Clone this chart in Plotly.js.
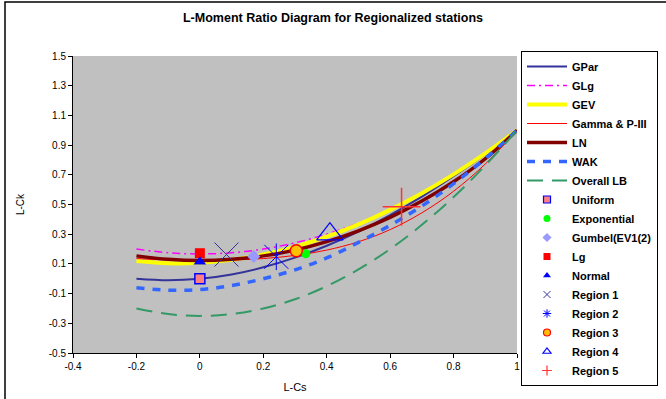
<!DOCTYPE html>
<html><head><meta charset="utf-8">
<script src="https://cdn.plot.ly/plotly-3.0.1.min.js"></script>
<style>html,body{margin:0;padding:0;background:#fff;} #chart{width:666px;height:399px;}</style>
</head><body><div id="chart"></div>
<script>
// L-skewness (L-Cs) grid for theoretical curves
var tauCs = [-0.2, -0.1, 0, 0.1, 0.2, 0.3, 0.4, 0.5, 0.6, 0.7, 0.8, 0.9, 1.0];
// L-kurtosis (L-Ck) of each theoretical curve
var gpar  = [0.000, -0.010, 0.000, 0.029, 0.077, 0.142, 0.222, 0.318, 0.429, 0.553, 0.690, 0.839, 1.000];
var glg   = [0.200, 0.175, 0.167, 0.175, 0.200, 0.242, 0.300, 0.375, 0.467, 0.575, 0.700, 0.842, 1.000];
var gev   = [0.119, 0.104, 0.107, 0.127, 0.163, 0.215, 0.283, 0.366, 0.464, 0.576, 0.703, 0.844, 1.000];
var gamma = [0.136, 0.126, 0.122, 0.126, 0.136, 0.157, 0.193, 0.249, 0.331, 0.444, 0.589, 0.773, 1.000];
var ln    = [0.154, 0.131, 0.123, 0.131, 0.154, 0.193, 0.250, 0.323, 0.413, 0.523, 0.653, 0.808, 1.000];
var wak   = [-0.060, -0.077, -0.073, -0.046, 0.000, 0.060, 0.140, 0.245, 0.360, 0.490, 0.640, 0.810, 1.000];
var lb    = [-0.200, -0.238, -0.250, -0.238, -0.200, -0.138, -0.050, 0.063, 0.200, 0.363, 0.550, 0.763, 1.000];

// Point distributions and regions
var pointNames = ['Uniform', 'Exponential', 'Gumbel(EV1(2)', 'Lg', 'Normal', 'Region 1', 'Region 2', 'Region 3', 'Region 4', 'Region 5'];
var pointCs = [0.000, 0.334, 0.170, 0.000, 0.000, 0.084, 0.241, 0.304, 0.410, 0.636];
var pointCk = [0.000, 0.168, 0.150, 0.172, 0.115, 0.163, 0.148, 0.188, 0.300, 0.485];

// Axis ticks
var xTickVals = [-0.4, -0.2, 0, 0.2, 0.4, 0.6, 0.8, 1];
var xTickText = ['-0.4', '-0.2', '0', '0.2', '0.4', '0.6', '0.8', '1'];
var yTickVals = [-0.5, -0.3, -0.1, 0.1, 0.3, 0.5, 0.7, 0.9, 1.1, 1.3, 1.5];
var yTickText = ['-0.5', '-0.3', '-0.1', '0.1', '0.3', '0.5', '0.7', '0.9', '1.1', '1.3', '1.5'];

var FONT = 'Arial, "Liberation Sans", sans-serif';

function lineTrace(name, y, color, width, dash) {
  return {type: 'scatter', mode: 'lines', x: tauCs, y: y, name: name,
    line: {color: color, width: width, dash: dash || 'solid', shape: 'spline', smoothing: 1}};
}

var traces = [
  lineTrace('GPar', gpar, '#333399', 2),
  lineTrace('GLg', glg, '#FF00FF', 1.5, '8px,4px,2px,4px'),
  lineTrace('GEV', gev, '#FFFF00', 4),
  lineTrace('Gamma & P-III', gamma, '#FF0000', 1),
  lineTrace('LN', ln, '#800000', 3.5),
  lineTrace('WAK', wak, '#3366FF', 3.5, '8px,8px'),
  lineTrace('Overall LB', lb, '#339966', 2, '16px,9px')
];

var pointStyles = [
  {symbol: 'square', size: 10, color: '#FF8080', line: {color: '#0000FF', width: 1.5}},
  {symbol: 'circle', size: 9, color: '#00FF00', line: {width: 0}},
  {symbol: 'diamond', size: 10, color: '#9999FF', line: {width: 0}},
  {symbol: 'square', size: 10, color: '#FF0000', line: {width: 0}},
  {symbol: 'triangle-up', size: 11, color: '#0000FF', line: {width: 0}},
  {symbol: 'x-thin-open', size: 24, color: '#333399', line: {color: '#333399', width: 1}},
  {symbol: 'x-thin-open', size: 24, color: '#0000FF', line: {color: '#0000FF', width: 1}},
  {symbol: 'circle', size: 12, color: '#FFC000', line: {color: '#FF0000', width: 1.5}},
  {symbol: 'triangle-up-open', size: 23, color: '#0000FF', line: {color: '#0000FF', width: 1.3}},
  {symbol: 'cross-thin-open', size: 27, color: '#FF3333', line: {color: '#FF3333', width: 1.5}}
];
var legendSymbols = ['square', 'circle', 'diamond', 'square', 'triangle-up', 'x-thin-open', 'asterisk-open', 'circle', 'triangle-up-open', 'cross-thin-open'];

// legend entries (small icons)
for (var i = 0; i < pointNames.length; i++) {
  var s = pointStyles[i];
  traces.push({type: 'scatter', mode: 'markers', x: [null], y: [null], name: pointNames[i], showlegend: true,
    marker: {symbol: legendSymbols[i], size: 7, color: s.color, line: {color: s.line.color, width: s.line.width ? Math.min(s.line.width, 1.2) : 0}}});
}
// actual points
for (var j = 0; j < pointNames.length; j++) {
  var st = pointStyles[j];
  traces.push({type: 'scatter', mode: 'markers', x: [pointCs[j]], y: [pointCk[j]], name: pointNames[j], showlegend: false,
    marker: {symbol: st.symbol, size: st.size, color: st.color, line: st.line}});
}
// vertical stroke of the Region 2 star marker
traces.push({type: 'scatter', mode: 'markers', x: [pointCs[6]], y: [pointCk[6]], name: 'Region 2', showlegend: false,
  marker: {symbol: 'line-ns-open', size: 19, color: '#0000FF', line: {color: '#0000FF', width: 1}}});

var layout = {
  width: 666, height: 399,
  margin: {l: 73, r: 149, t: 56, b: 46, autoexpand: false},
  paper_bgcolor: '#FFFFFF', plot_bgcolor: '#C0C0C0',
  font: {family: FONT, color: '#000000'},
  title: {text: 'L-Moment Ratio Diagram for Regionalized stations', font: {family: FONT, size: 12.5, weight: 'bold', color: '#000000'},
    x: 0.5, xref: 'container', xanchor: 'center', y: 1 - 18 / 399, yref: 'container', yanchor: 'middle'},
  xaxis: {range: [-0.4, 1], tickmode: 'array', tickvals: xTickVals, ticktext: xTickText,
    ticks: 'outside', ticklen: 4, tickcolor: '#000', showline: true, linecolor: '#000', linewidth: 1,
    showgrid: false, zeroline: false, tickfont: {family: FONT, size: 10, color: '#000'},
    title: {text: 'L-Cs', font: {family: FONT, size: 11, color: '#000'}, standoff: 12}},
  yaxis: {range: [-0.5, 1.5], tickmode: 'array', tickvals: yTickVals, ticktext: yTickText,
    ticks: 'outside', ticklen: 4, tickcolor: '#000', showline: true, linecolor: '#000', linewidth: 1,
    showgrid: false, zeroline: false, tickfont: {family: FONT, size: 10, color: '#000'},
    title: {text: 'L-Ck', font: {family: FONT, size: 10, color: '#000'}, standoff: 22}},
  legend: {x: (521 - 73) / 444, xanchor: 'left', y: (353 - 51) / 297, yanchor: 'top', bgcolor: '#FFFFFF', bordercolor: '#000000', borderwidth: 1,
    font: {family: FONT, size: 11, color: '#000', weight: 'bold'}, itemwidth: 40, tracegroupgap: 0, maxheight: 348},
  shapes: [{type: 'rect', xref: 'paper', yref: 'paper', x0: (5 - 73) / 444, x1: 2, y0: -1, y1: (353 - 2) / 297,
    line: {color: '#000000', width: 1.5}, fillcolor: 'rgba(0,0,0,0)', layer: 'above'}],
  showlegend: true
};

Plotly.newPlot('chart', traces, layout, {displayModeBar: false, staticPlot: true});
</script></body></html>
